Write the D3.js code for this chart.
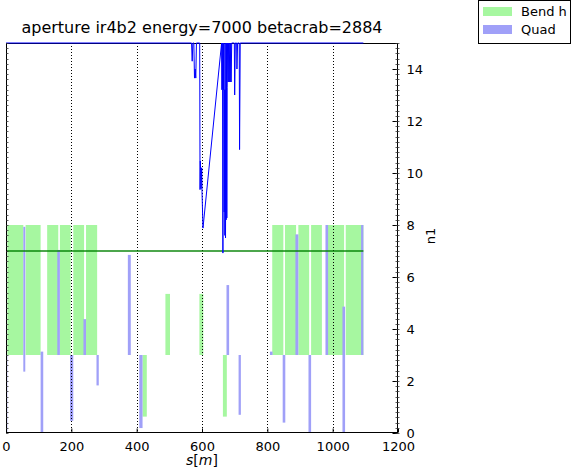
<!DOCTYPE html>
<html>
<head>
<meta charset="utf-8">
<script src="https://cdn.jsdelivr.net/npm/d3@7"></script>
<style>
body { margin: 0; background: #fff; }
text { font-family: "DejaVu Sans", sans-serif; }
</style>
</head>
<body>
<div id="chart"></div>
<script>
// bends: start, end, low, high (s in m, n1 units)
var bendStart = [4, 60, 126, 165, 206, 245, 418, 488, 592, 664, 815, 854, 895, 934, 982, 1040];
var bendEnd   = [53, 106, 160, 198, 239, 279, 431, 502, 604, 676, 849, 888, 928, 967, 1035, 1094];
var bendLow   = [3, 3, 3, 3, 3, 3, 0.63, 3, 3, 0.63, 3, 3, 3, 3, 3, 3];
var bendHigh  = [8, 8, 8, 8, 8, 8, 3, 5.35, 5.35, 3, 8, 8, 8, 8, 8, 8];

// quads
var quadStart = [0, 53, 106, 157, 196, 237, 277, 373, 408, 675, 712, 808, 847, 886, 926, 978, 1030, 1087];
var quadEnd   = [4, 59, 114, 165, 206, 245, 284, 382, 418, 683, 719, 816, 855, 895, 934, 986, 1038, 1094];
var quadLow   = [0, 2.36, 0, 3, 0.47, 3, 1.83, 3, 0.19, 3, 0.7, 3, 0.4, 3, 0, 3, 0, 3];
var quadHigh  = [3, 7.93, 3.13, 7.04, 3, 4.38, 3, 6.85, 3, 5.69, 3, 3.13, 3, 7.64, 3, 8, 4.86, 8];

// aperture n1 along s
var apS  = [0, 568, 570, 572, 575, 577, 579, 581, 583, 593, 594, 595, 597, 599, 600, 603,
            660, 661, 662, 663, 664, 665, 666, 667, 668, 669, 670, 671, 672, 673, 674, 675,
            676, 677, 678, 680, 681, 683, 685, 686, 688, 689, 691, 699, 700, 702, 706, 707,
            709, 714, 715, 717, 1094];
var apN1 = [15, 15, 14.3, 15, 15, 13.65, 14, 13.65, 15, 15, 9.36, 10.46, 9.4, 10.2, 9.3, 7.88,
            15, 13.2, 15, 13.2, 6.92, 15, 13.2, 15, 8.5, 13.2, 7.6, 15, 7.5, 13.2, 8.2, 15,
            8.27, 13.3, 15, 13.5, 15, 13.5, 15, 13.5, 15, 13.5, 15, 15, 13.0, 15, 15, 14.0,
            15, 15, 10.9, 15, 15];

var n1Limit = 7, n1LimitEnd = 1094;

var xTicks = [0, 200, 400, 600, 800, 1000, 1200];
var yTicks = [0, 2, 4, 6, 8, 10, 12, 14];

var W = 576, H = 468;
var pLeft = 6, pRight = 398, pTop = 43, pBottom = 433;

var x = d3.scaleLinear().domain([0, 1200]).range([pLeft, pRight]);
var y = d3.scaleLinear().domain([0, 15]).range([pBottom, pTop]);

var svg = d3.select("#chart").append("svg")
  .attr("width", W)
  .attr("height", H);

// bends
svg.append("g").selectAll("rect")
  .data(bendStart)
  .enter().append("rect")
  .attr("x", function(d) { return x(d); })
  .attr("width", function(d, i) { return x(bendEnd[i]) - x(d); })
  .attr("y", function(d, i) { return y(bendHigh[i]); })
  .attr("height", function(d, i) { return y(bendLow[i]) - y(bendHigh[i]); })
  .attr("fill", "#a6f7a0");

// quads
svg.append("g").selectAll("rect")
  .data(quadStart)
  .enter().append("rect")
  .attr("x", function(d) { return x(d); })
  .attr("width", function(d, i) { return x(quadEnd[i]) - x(d); })
  .attr("y", function(d, i) { return y(quadHigh[i]); })
  .attr("height", function(d, i) { return y(quadLow[i]) - y(quadHigh[i]); })
  .attr("fill", "#a0a0f8");

// dotted grid on x
svg.append("g").selectAll("line")
  .data(xTicks.slice(1, -1))
  .enter().append("line")
  .attr("x1", function(d) { return Math.round(x(d)) + 0.5; })
  .attr("x2", function(d) { return Math.round(x(d)) + 0.5; })
  .attr("y1", pTop)
  .attr("y2", pBottom)
  .attr("stroke", "#000")
  .attr("stroke-dasharray", "1,2");

// n1 limit
svg.append("line")
  .attr("x1", x(0))
  .attr("x2", x(n1LimitEnd))
  .attr("y1", y(n1Limit))
  .attr("y2", y(n1Limit))
  .attr("stroke", "#008000")
  .attr("stroke-opacity", 0.7)
  .attr("stroke-width", 2);

// frame
svg.append("rect")
  .attr("x", pLeft + 0.5)
  .attr("y", pTop + 0.5)
  .attr("width", pRight - pLeft - 1)
  .attr("height", pBottom - pTop - 1)
  .attr("fill", "none")
  .attr("stroke", "#000");

// aperture line
var line = d3.line()
  .x(function(d, i) { return x(apS[i]); })
  .y(function(d) { return y(d); });

svg.append("path")
  .datum(apN1)
  .attr("d", line)
  .attr("fill", "none")
  .attr("stroke", "#0000ff")
  .attr("stroke-width", 1);

// bottom axis
var xAxis = d3.axisBottom(x).tickValues(xTicks).tickFormat(d3.format("d"))
  .tickSizeInner(-4).tickSizeOuter(0).tickPadding(9);
var gx = svg.append("g")
  .attr("transform", "translate(0," + (pBottom - 0.5) + ")")
  .call(xAxis);
gx.select(".domain").remove();
gx.selectAll("text").attr("font-size", 13).attr("font-family", "DejaVu Sans").attr("fill", "#000");

// right axis
var yAxis = d3.axisRight(y).tickValues(yTicks).tickFormat(d3.format("d"))
  .tickSizeInner(-5).tickSizeOuter(0).tickPadding(9);
var gy = svg.append("g")
  .attr("transform", "translate(" + (pRight - 0.5) + ",0)")
  .call(yAxis);
gy.select(".domain").remove();
gy.selectAll("text").attr("font-size", 13).attr("font-family", "DejaVu Sans").attr("fill", "#000");

// minor ticks on both vertical spines
var minor = d3.range(0, 15.01, 0.2);
svg.append("g").selectAll("line")
  .data(minor)
  .enter().append("line")
  .attr("x1", pRight - 2.5)
  .attr("x2", pRight + 1.5)
  .attr("y1", function(d) { return Math.round(y(d)) + 0.5; })
  .attr("y2", function(d) { return Math.round(y(d)) + 0.5; })
  .attr("stroke", "#333")
  .attr("stroke-width", 0.8);
svg.append("g").selectAll("line")
  .data(minor)
  .enter().append("line")
  .attr("x1", pLeft)
  .attr("x2", pLeft + 2.5)
  .attr("y1", function(d) { return Math.round(y(d)) + 0.5; })
  .attr("y2", function(d) { return Math.round(y(d)) + 0.5; })
  .attr("stroke", "#333")
  .attr("stroke-width", 0.8);

// labels
svg.append("text")
  .attr("x", (pLeft + pRight) / 2)
  .attr("y", 33)
  .attr("text-anchor", "middle")
  .attr("font-size", 16)
  .text("aperture ir4b2 energy=7000 betacrab=2884");

var xl = svg.append("text")
  .attr("x", (pLeft + pRight) / 2)
  .attr("y", 465)
  .attr("text-anchor", "middle")
  .attr("font-size", 14)
  .attr("font-family", "DejaVu Serif");
xl.append("tspan").attr("font-style", "italic").text("s");
xl.append("tspan").text("[");
xl.append("tspan").attr("font-style", "italic").text("m");
xl.append("tspan").text("]");

svg.append("text")
  .attr("transform", "translate(435,236) rotate(-90)")
  .attr("text-anchor", "middle")
  .attr("font-size", 13)
  .text("n1");

// legend
var legend = svg.append("g");
legend.append("rect")
  .attr("x", 478.5)
  .attr("y", 0.5)
  .attr("width", 92)
  .attr("height", 43)
  .attr("fill", "#fff")
  .attr("stroke", "#000");

var legKeys = ["Bend h", "Quad"];
var legColors = ["#a6f7a0", "#a0a0f8"];
var item = legend.selectAll("g")
  .data(legKeys)
  .enter().append("g")
  .attr("transform", function(d, i) { return "translate(0," + i * 18 + ")"; });
item.append("rect")
  .attr("x", 483)
  .attr("y", 7)
  .attr("width", 29)
  .attr("height", 9)
  .attr("fill", function(d, i) { return legColors[i]; });
item.append("text")
  .attr("x", 521)
  .attr("y", 16)
  .attr("font-size", 13)
  .text(function(d) { return d; });
</script>
</body>
</html>
